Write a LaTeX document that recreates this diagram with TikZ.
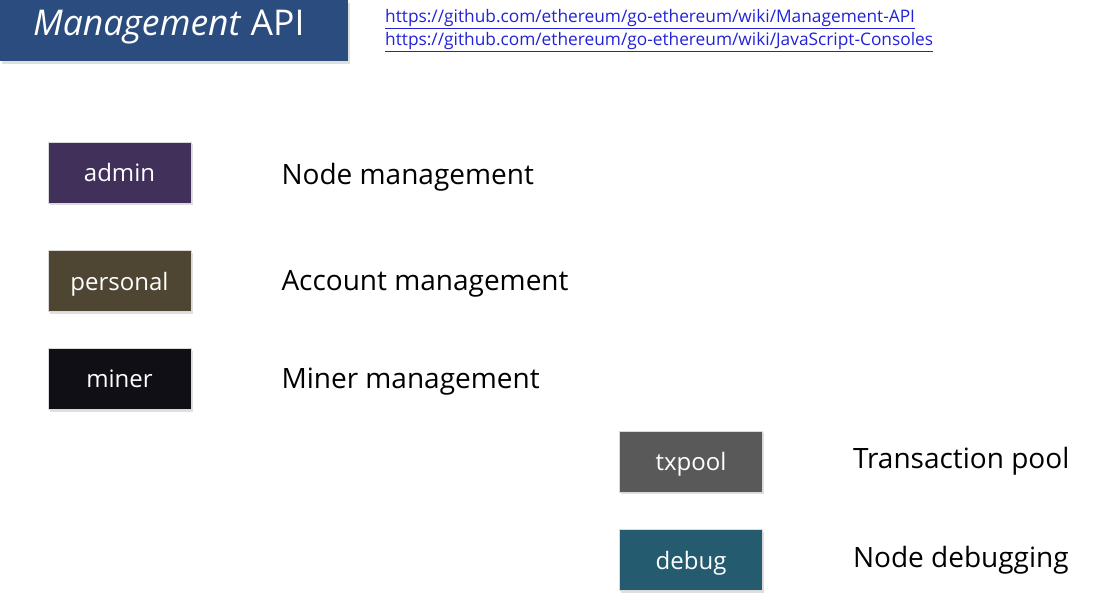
\documentclass[tikz,border=0pt]{standalone}
\usepackage{fontspec}
\setmainfont{Open Sans}
\usepackage{tikz}
\usetikzlibrary{positioning, shadows}
\definecolor{titleblue}{HTML}{2B4C7E}
\definecolor{adminpurple}{HTML}{40305A}
\definecolor{personalolive}{HTML}{4E4632}
\definecolor{minerblack}{HTML}{0F0F15}
\definecolor{txpoolgray}{HTML}{595959}
\definecolor{debugteal}{HTML}{245B6E}
\definecolor{linkblue}{HTML}{2222D8}
\tikzset{
    apibox/.style={rectangle, draw=black!15, line width=0.6pt, text=white, minimum width=143pt, minimum height=61pt, inner sep=0pt, text height=18pt, text depth=0pt, text centered, font=\fontsize{24}{28}\selectfont, drop shadow={shadow xshift=1.5pt, shadow yshift=-2.5pt, opacity=0.25}},
    desc/.style={anchor=west, inner sep=0pt, text height=19pt, text depth=0pt, font=\fontsize{28}{34}\selectfont},
    link/.style={anchor=base west, inner sep=0pt, text=linkblue, font=\fontsize{17.3}{22}\selectfont}
}

\begin{document}
\begin{tikzpicture}[x=1pt, y=-1pt, node distance=90pt]
    \useasboundingbox (0,0) rectangle (1101,601);
    % Title
    \node (title) [rectangle, fill=titleblue, minimum width=348pt, minimum height=61pt, inner sep=0pt, anchor=north west, drop shadow={shadow xshift=1.5pt, shadow yshift=-2.5pt, opacity=0.25}] at (0,0) {};
    \node (titletext) [anchor=base west, text=white, inner sep=0pt, font=\fontsize{35.5}{40}\selectfont] at (33,36) {\textit{Management} API};
    % Links
    \node (link_mgmt) [link] at (385,23) {\underline{https://github.com/ethereum/go-ethereum/wiki/Management-API}};
    \node (link_js) [link] at (385,46) {\underline{https://github.com/ethereum/go-ethereum/wiki/JavaScript-Consoles}};
    % Left column
    \node (admin) [apibox, fill=adminpurple] at (119.5,172.5) {admin};
    \node (personal) [apibox, fill=personalolive, below=47pt of admin] {personal};
    \node (miner) [apibox, fill=minerblack, below=36pt of personal] {miner};
    \node (admin_desc) [desc, right=of admin, yshift=-3pt] {Node management};
    \node (personal_desc) [desc, right=of personal] {Account management};
    \node (miner_desc) [desc, right=of miner] {Miner management};
    % Right column
    \node (txpool) [apibox, fill=txpoolgray] at (691,461.5) {txpool};
    \node (debug) [apibox, fill=debugteal, below=37pt of txpool] {debug};
    \node (txpool_desc) [desc, right=of txpool, yshift=2pt] {Transaction pool};
    \node (debug_desc) [desc, right=of debug, yshift=2pt] {Node debugging};
\end{tikzpicture}
\end{document}
